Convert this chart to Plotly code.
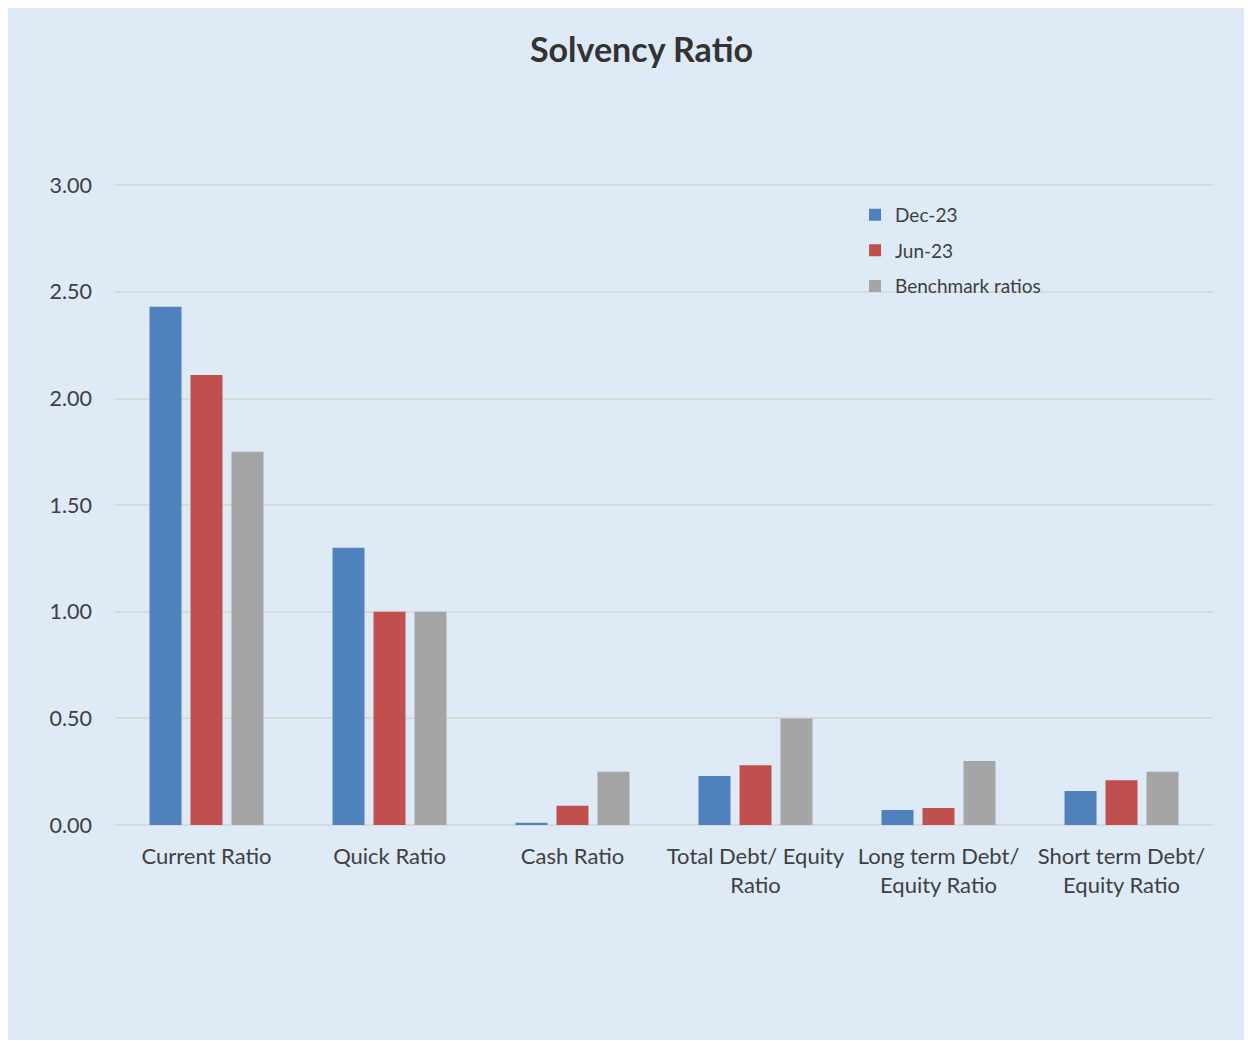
import plotly.graph_objects as go

categories = ["Current Ratio", "Quick Ratio", "Cash Ratio",
              "Total Debt/ Equity<br>Ratio", "Long term Debt/<br>Equity Ratio",
              "Short term Debt/<br>Equity Ratio"]
dec23 = [2.43, 1.30, 0.01, 0.23, 0.07, 0.16]
jun23 = [2.11, 1.00, 0.09, 0.28, 0.08, 0.21]
bench = [1.75, 1.00, 0.25, 0.50, 0.30, 0.25]
series_names = ["Dec-23", "Jun-23", "Benchmark ratios"]
tick_vals = [0, 0.5, 1.0, 1.5, 2.0, 2.5, 3.0]
tick_text = ["0.00", "0.50", "1.00", "1.50", "2.00", "2.50", "3.00"]

colors = ["#4F81BD", "#C0504D", "#A5A5A5"]
bg = "#DEEAF6"
font_family = "Lato, 'Open Sans', sans-serif"

fig = go.Figure()
for i, (name, vals, c) in enumerate(zip(series_names, [dec23, jun23, bench], colors)):
    fig.add_trace(go.Bar(x=categories, y=vals, name=name, marker_color=c,
                         marker_line_width=0, legendgroup=f"g{i}"))

fig.update_layout(
    width=1252, height=1040,
    paper_bgcolor=bg, plot_bgcolor=bg,
    margin=dict(l=107, r=47, t=173, b=223),
    barmode="group", bargap=0.328, bargroupgap=0.22,
    font=dict(family=font_family, color="#404040", size=20),
    title=dict(text="<b>Solvency Ratio</b>", x=0.506, xanchor="center",
               y=0.9596, yanchor="middle",
               font=dict(size=34, color="#333333", family=font_family)),
    legend=dict(x=0.674, y=0.977, xanchor="left", yanchor="top",
                bgcolor="rgba(0,0,0,0)", font=dict(size=19, color="#404040"),
                tracegroupgap=8, itemwidth=30),
    showlegend=True,
)
fig.update_yaxes(range=[0, 3.02], tickvals=tick_vals, ticktext=tick_text,
                 showgrid=True, gridcolor="#D9D9D9", gridwidth=1.5,
                 zeroline=True, zerolinecolor="#D9D9D9", zerolinewidth=2,
                 showline=False, ticks="", ticklabelstandoff=22,
                 tickfont=dict(size=21.5, color="#404040"))
fig.update_xaxes(showgrid=False, showline=False, ticks="",
                 ticklabelstandoff=16,
                 tickfont=dict(size=22, color="#404040"), tickangle=0)

fig.write_html("out.html")
